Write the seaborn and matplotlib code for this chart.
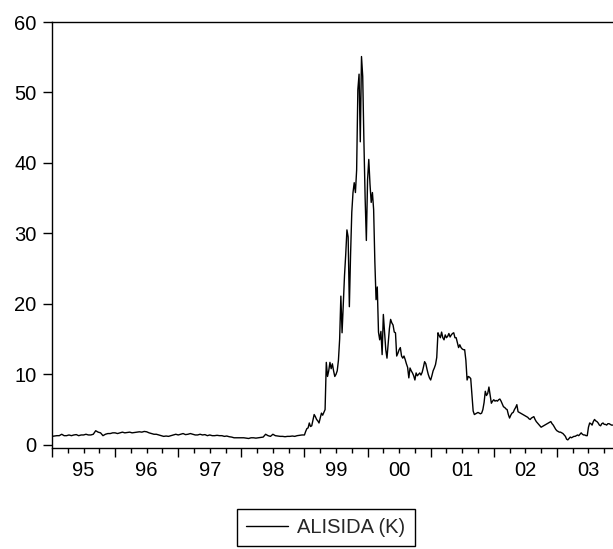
import numpy as np
import pandas as pd
import matplotlib
matplotlib.use("Agg")
import matplotlib.pyplot as plt
import seaborn as sns

# ---- data ----
series_name = "ALISIDA (K)"
years = [1995, 1996, 1997, 1998, 1999, 2000, 2001, 2002, 2003]
obs_per_year = [26, 26, 26, 26, 52, 52, 52, 52, 52]
year_labels = ["95", "96", "97", "98", "99", "00", "01", "02", "03"]

v1995 = [1.2, 1.25, 1.3, 1.3, 1.5, 1.3, 1.3, 1.4, 1.3, 1.4, 1.45, 1.3, 1.4,
         1.4, 1.5, 1.4, 1.4, 1.5, 2.0, 1.8, 1.7, 1.3, 1.5, 1.6, 1.6, 1.7]
v1996 = [1.7, 1.6, 1.7, 1.8, 1.7, 1.75, 1.8, 1.7, 1.75, 1.8, 1.85, 1.8, 1.9,
         1.85, 1.7, 1.6, 1.5, 1.5, 1.4, 1.3, 1.2, 1.25, 1.2, 1.3, 1.4, 1.5]
v1997 = [1.4, 1.5, 1.6, 1.45, 1.5, 1.6, 1.5, 1.4, 1.4, 1.5, 1.4, 1.45, 1.3,
         1.4, 1.3, 1.3, 1.35, 1.3, 1.3, 1.2, 1.25, 1.15, 1.1, 1.0, 1.0, 1.0]
v1998 = [1.0, 1.0, 0.95, 0.9, 1.0, 1.0, 0.95, 1.0, 1.05, 1.1, 1.5, 1.3, 1.2,
         1.5, 1.3, 1.25, 1.2, 1.2, 1.15, 1.2, 1.2, 1.25, 1.2, 1.3, 1.35, 1.4]
v1999 = [1.4, 1.9, 2.3, 2.4, 3.1, 2.6, 2.7, 3.5, 4.3, 4.0, 3.6, 3.4, 3.1,
         3.8, 4.5, 4.2, 4.6, 5.0, 11.7, 9.7, 10.5, 11.7, 10.8, 11.5, 10.5, 9.7,
         10.0, 10.5, 12.0, 15.0, 21.1, 15.9, 20.0, 24.0, 27.0, 30.5, 29.5, 19.6,
         27.0, 33.0, 35.8, 37.2, 35.8, 39.0, 50.4, 52.6, 43.0, 55.1, 52.3, 43.0,
         35.0, 29.0]
v2000 = [37.6, 40.5, 37.0, 34.4, 35.8, 33.4, 26.0, 20.6, 22.4, 16.0, 14.9, 16.1,
         12.8, 18.5, 16.0, 13.5, 12.3, 14.5, 16.5, 17.8, 17.3, 17.0, 16.0, 15.9,
         12.6, 13.0, 13.5, 13.8, 12.6, 12.3, 12.6, 12.1, 11.5, 11.0, 9.5, 10.9,
         10.5, 10.2, 9.8, 9.2, 10.2, 9.8, 10.0, 10.2, 9.9, 10.3, 11.0, 11.8,
         11.5, 10.7, 10.0, 9.5]
v2001 = [9.2, 9.8, 10.5, 10.9, 11.4, 12.4, 15.9, 15.5, 15.2, 16.0, 15.2, 14.9,
         15.6, 15.2, 15.4, 15.8, 15.3, 15.6, 15.8, 15.9, 15.2, 15.2, 14.5, 13.8,
         14.2, 13.8, 13.6, 13.5, 13.5, 12.0, 9.2, 9.7, 9.6, 9.4, 7.0, 4.8, 4.3,
         4.4, 4.5, 4.6, 4.5, 4.4, 4.5, 5.0, 6.0, 7.6, 7.0, 7.3, 8.2, 7.0, 5.9,
         6.2]
v2002 = [6.4, 6.2, 6.3, 6.2, 6.4, 6.5, 6.2, 5.8, 5.4, 5.3, 5.1, 5.0, 4.3, 3.8,
         4.2, 4.5, 4.6, 5.0, 5.3, 5.7, 4.7, 4.6, 4.5, 4.4, 4.3, 4.2, 4.1, 4.0,
         3.9, 3.7, 3.6, 3.8, 3.9, 4.0, 3.6, 3.3, 3.1, 2.9, 2.7, 2.5, 2.6, 2.7,
         2.8, 2.9, 3.0, 3.1, 3.2, 3.3, 3.0, 2.8, 2.5, 2.2]
v2003 = [2.0, 1.9, 1.8, 1.8, 1.7, 1.6, 1.4, 1.2, 0.8, 0.7, 0.9, 1.1, 1.0, 1.1,
         1.2, 1.2, 1.3, 1.4, 1.3, 1.5, 1.7, 1.5, 1.4, 1.4, 1.3, 1.3, 2.5, 3.1,
         3.0, 2.8, 3.3, 3.6, 3.4, 3.3, 3.1, 2.8, 2.7, 3.0, 3.1, 2.9, 2.9, 2.8,
         3.0, 3.0, 2.9, 2.8, 2.8]

yearly_values = [v1995, v1996, v1997, v1998, v1999, v2000, v2001, v2002, v2003]

rows = []
for yr, n, vals in zip(years, obs_per_year, yearly_values):
    for i, v in enumerate(vals):
        rows.append({"t": yr + i / n, "value": v})
df = pd.DataFrame(rows)

# ---- style ----
sns.set_style("ticks")
plt.rcParams["font.family"] = ["Liberation Sans", "DejaVu Sans"]
FS = 14.5

W, H = 613, 549
fig = plt.figure(figsize=(W / 100, H / 100), dpi=100)
ax_left, ax_right, ax_top, ax_bottom = 52, 613, 22, 448
ax = fig.add_axes([ax_left / W, 1 - ax_bottom / H,
                   (ax_right - ax_left) / W, (ax_bottom - ax_top) / H])

sns.lineplot(data=df, x="t", y="value", ax=ax, color="black", linewidth=1.0,
             label=series_name, legend=False)

x_end = 2003 + (613 - 557) / 63
ax.set_xlim(1995, x_end)
ax.set_ylim(-0.45, 60)

for side in ["left", "top", "bottom"]:
    ax.spines[side].set_visible(True)
    ax.spines[side].set_linewidth(1.0)
    ax.spines[side].set_color("black")
ax.spines["right"].set_visible(False)

ax.set_xlabel("")
ax.set_ylabel("")

# y ticks
ax.set_yticks(np.arange(0, 61, 10))
ax.tick_params(axis="y", which="major", direction="out", length=6.5, width=1.0,
               pad=4.5, labelsize=FS, colors="black")

# x ticks: year boundaries (major), quarters (minor), labels at mid-year
ax.set_xticks(years, [""] * len(years))
minor_pos, minor_lab = [], []
for yr, lab in zip(years, year_labels):
    for q, ql in [(0.25, ""), (0.5, lab), (0.75, "")]:
        if yr + q <= x_end:
            minor_pos.append(yr + q)
            minor_lab.append(ql)
ax.set_xticks(minor_pos, minor_lab, minor=True)
ax.tick_params(axis="x", which="major", direction="out", length=6.5, width=1.0,
               colors="black")
ax.tick_params(axis="x", which="minor", direction="out", length=3.6, width=1.0,
               pad=5.5, labelsize=FS, colors="black")
ax.tick_params(top=False, right=False)

# legend
handles, labels = ax.get_legend_handles_labels()
leg = fig.legend(handles, labels, loc="center left",
                 bbox_to_anchor=(237 / W, 1 - 527.5 / H),
                 frameon=True, fancybox=False, framealpha=1, edgecolor="black",
                 fontsize=FS, handlelength=2.1, handletextpad=0.45,
                 borderpad=0.45, borderaxespad=0)
leg.get_frame().set_linewidth(1.0)

fig.savefig("out.png", dpi=100)
